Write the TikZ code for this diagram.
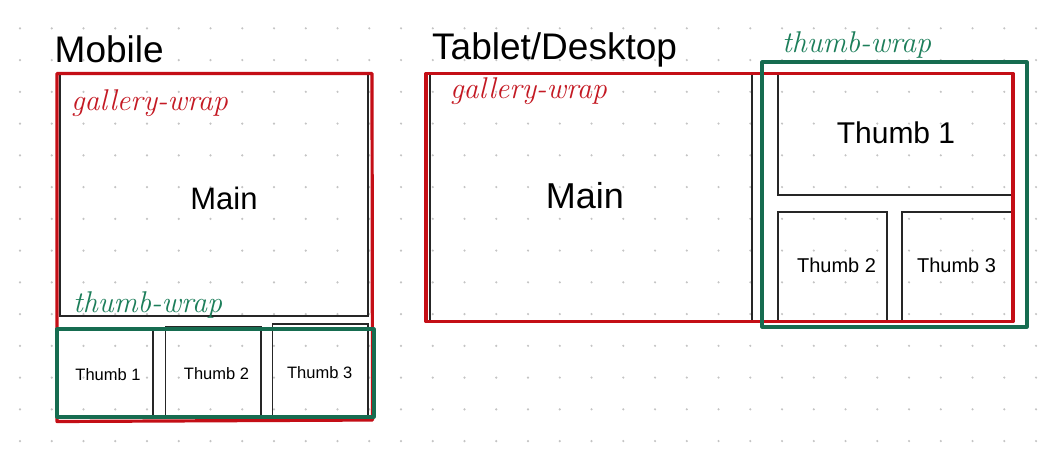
\documentclass[tikz,border=0pt]{standalone}
\usepackage{fontspec}
\newfontfamily\uisans{Liberation Sans}
\definecolor{dotfill}{RGB}{196,196,196}
\definecolor{wrapred}{RGB}{196,14,22}
\definecolor{wrapgreen}{RGB}{22,108,80}
\definecolor{handred}{RGB}{196,26,36}
\definecolor{handgreen}{RGB}{28,126,90}
\tikzset{
  wire/.style={draw=black!85, line width=1.5pt},
  redwrap/.style={draw=wrapred, line width=3.2pt, line join=round},
  greenwrap/.style={draw=wrapgreen, line width=3.2pt, line join=round},
  heading/.style={inner sep=0pt, anchor=base west, font=\uisans\fontsize{37}{40}\selectfont},
  bigtext/.style={inner sep=0pt, font=\uisans\fontsize{#1}{#1}\selectfont},
  handnote/.style={inner sep=0pt, anchor=base west, text=#1,
    font=\itshape\fontsize{30}{32}\selectfont},
}
\begin{document}
\begin{tikzpicture}[x=1pt,y=-1pt]
\useasboundingbox (0,0) rectangle (1063,469);
\fill[white] (0,0) rectangle (1063,469);

% dotted grid paper
\foreach \i in {0,...,32}
  \foreach \j in {0,...,13}
    \fill[dotfill] (20+31.75*\i, 28.3+31.75*\j) circle (1.2);

% ---------------- Mobile ----------------
\node[heading] (mobtitle) at (54.5,62.5) {Mobile};

\draw[wire] (60,73.5) rectangle (368,316);
\draw[wire] (57,329) rectangle (153,418);
\draw[wire] (165.5,326.5) rectangle (261,417);
\draw[wire] (272.5,324) rectangle (368,417);

\draw[redwrap] (57,73.5) -- (372,73.5) -- (372.5,420) -- (57,421.5) -- cycle;
\draw[greenwrap] (57,329) rectangle (374,417);

\node[bigtext=31] (mobmain) at (224,198) {Main};
\node[bigtext=16.5] (mobt1) at (108,375) {Thumb 1};
\node[bigtext=16.5] (mobt2) at (216.5,373.5) {Thumb 2};
\node[bigtext=16.5] (mobt3) at (319.7,373) {Thumb 3};

\node[handnote=handred] (mobgal) at (71,110) {gallery-wrap};
\node[handnote=handgreen] (mobthumb) at (73,312) {thumb-wrap};

% ---------------- Tablet / Desktop ----------------
\node[heading] (tabtitle) at (432,59) {Tablet/Desktop};

\draw[wire] (430,74) rectangle (752,321.5);
\draw[wire] (778,73.5) rectangle (1012,195);
\draw[wire] (778,212) rectangle (887,321.5);
\draw[wire] (902,212) rectangle (1012,321.5);

\draw[redwrap] (426,73.5) rectangle (1013,321.5);
\draw[greenwrap] (762,62) rectangle (1027,327);

\node[bigtext=36] (tabmain) at (585,196) {Main};
\node[bigtext=30] (tabt1) at (896,132.5) {Thumb 1};
\node[bigtext=20] (tabt2) at (836.5,265) {Thumb 2};
\node[bigtext=20] (tabt3) at (956.5,265) {Thumb 3};

\node[handnote=handred] (tabgal) at (450,98.5) {gallery-wrap};
\node[handnote=handgreen] (tabthumb) at (782,52) {thumb-wrap};
\end{tikzpicture}
\end{document}
